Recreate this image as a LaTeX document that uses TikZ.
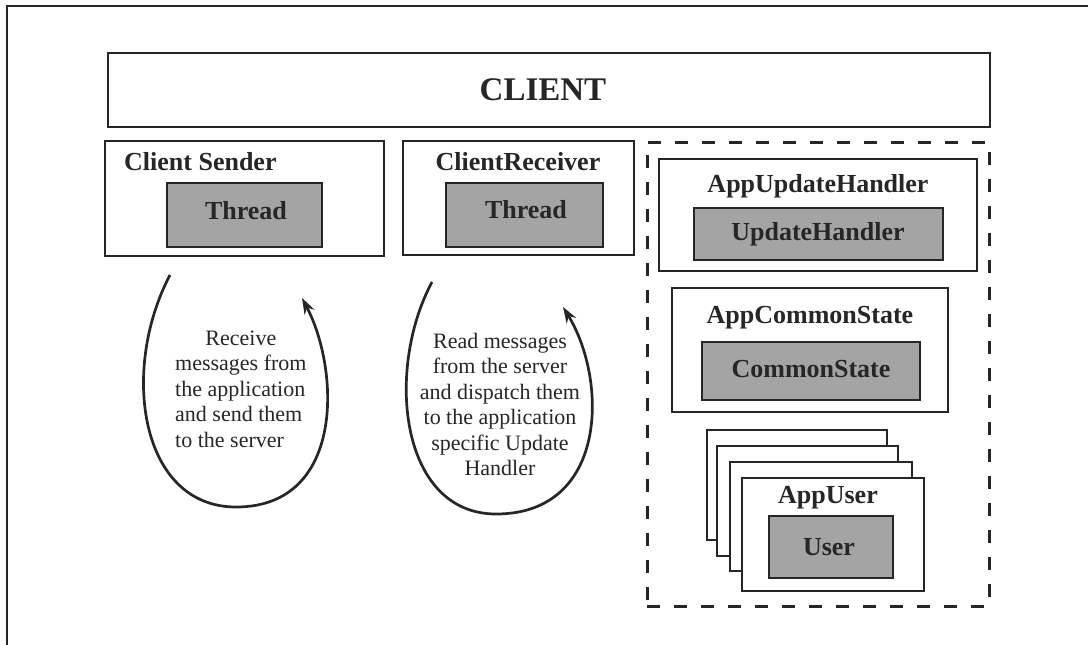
\documentclass[tikz,border=0pt]{standalone}
\usepackage{fontspec}
\setmainfont{Liberation Serif}
\usetikzlibrary{arrows.meta,fit}
\definecolor{ink}{RGB}{38,38,38}
\definecolor{shade}{RGB}{164,164,164}
\begin{document}
\begin{tikzpicture}[x=1pt,y=-1pt,
  frame/.style={draw=ink, line width=2.7pt, fill=white, inner sep=0pt},
  core/.style={draw=ink, line width=2.9pt, fill=shade, inner sep=0pt},
  dashgroup/.style={draw=ink, line width=3pt, dash pattern=on 13pt off 14pt, inner sep=0pt},
  title/.style={font=\fontsize{26}{30}\selectfont\bfseries, text=ink, inner sep=0pt, anchor=base},
  note/.style={font=\fontsize{22}{25.5}\selectfont, text=ink, inner sep=0pt, anchor=base},
  cycleflow/.style={draw=ink, line width=2.7pt, -{Stealth[length=16pt,width=11pt]}}]
\useasboundingbox (0,0) rectangle (1088,645);

% outer frame (top and left edges)
\draw[ink, line width=2.5pt] (7,645) -- (7,6) -- (1088,6);

% CLIENT banner
\node[frame, fit={(108,53) (990,127)}] (client) {};
\node[font=\fontsize{33}{36}\selectfont\bfseries, text=ink, inner sep=0pt, anchor=base] (clientlbl) at (543,100) {CLIENT};

% Client Sender
\node[frame, fit={(105,141) (384,256)}] (sender) {};
\node[title, anchor=base west] (senderlbl) at (124,170) {Client Sender};
\node[core, fit={(167,183) (322,247)}] (sthread) {};
\node[title] (sthreadlbl) at (246,219) {Thread};

% ClientReceiver
\node[frame, fit={(403,141) (634,255)}] (receiver) {};
\node[title] (receiverlbl) at (518,170) {ClientReceiver};
\node[core, fit={(446,183) (603,247)}] (rthread) {};
\node[title] (rthreadlbl) at (526,218) {Thread};

% application-side group
\node[dashgroup, fit={(647,142) (989,606)}] (appgroup) {};

\node[frame, fit={(659,159) (977,271)}] (apphandler) {};
\node[title] (apphandlerlbl) at (818,192) {AppUpdateHandler};
\node[core, fit={(694,208) (943,260)}] (handler) {};
\node[title] (handlerlbl) at (818,240) {UpdateHandler};

\node[frame, fit={(672,288) (948,412)}] (appstate) {};
\node[title] (appstatelbl) at (810,323) {AppCommonState};
\node[core, fit={(702,342) (920,400)}] (state) {};
\node[title] (statelbl) at (811,377) {CommonState};

% stack of AppUser instances
\node[frame, fit={(707,430) (887,540)}] (user1) {};
\node[frame, fit={(717,446) (898,556)}] (user2) {};
\node[frame, fit={(730,462) (912,571)}] (user3) {};
\node[frame, fit={(742,478) (924,591)}] (appuser) {};
\node[title] (appuserlbl) at (828,503) {AppUser};
\node[core, fit={(769,516) (893,578)}] (user) {};
\node[title] (userlbl) at (829,555) {User};

% sender loop
\coordinate (s1) at (170,275);
\coordinate (e1) at (302,298);
\draw[cycleflow] (s1) .. controls (120,370) and (140,507) .. (236,507)
                      .. controls (345,507) and (340,370) .. (e1);
\node[note, anchor=base west] (sendtext) at (175,345) {\begin{tabular}[t]{@{}l@{}}
\multicolumn{1}{@{}c@{}}{Receive}\\
messages from\\
the application\\
and send them\\
to the server
\end{tabular}};

% receiver loop
\coordinate (s2) at (432,282);
\coordinate (e2) at (563,307);
\draw[cycleflow] (s2) .. controls (385,370) and (400,514) .. (496,514)
                      .. controls (608,514) and (608,380) .. (e2);
\node[note] (recvtext) at (500,348) {\begin{tabular}[t]{@{}c@{}}
Read messages\\
from the server\\
and dispatch them\\
to the application\\
specific Update\\
Handler
\end{tabular}};
\end{tikzpicture}
\end{document}
